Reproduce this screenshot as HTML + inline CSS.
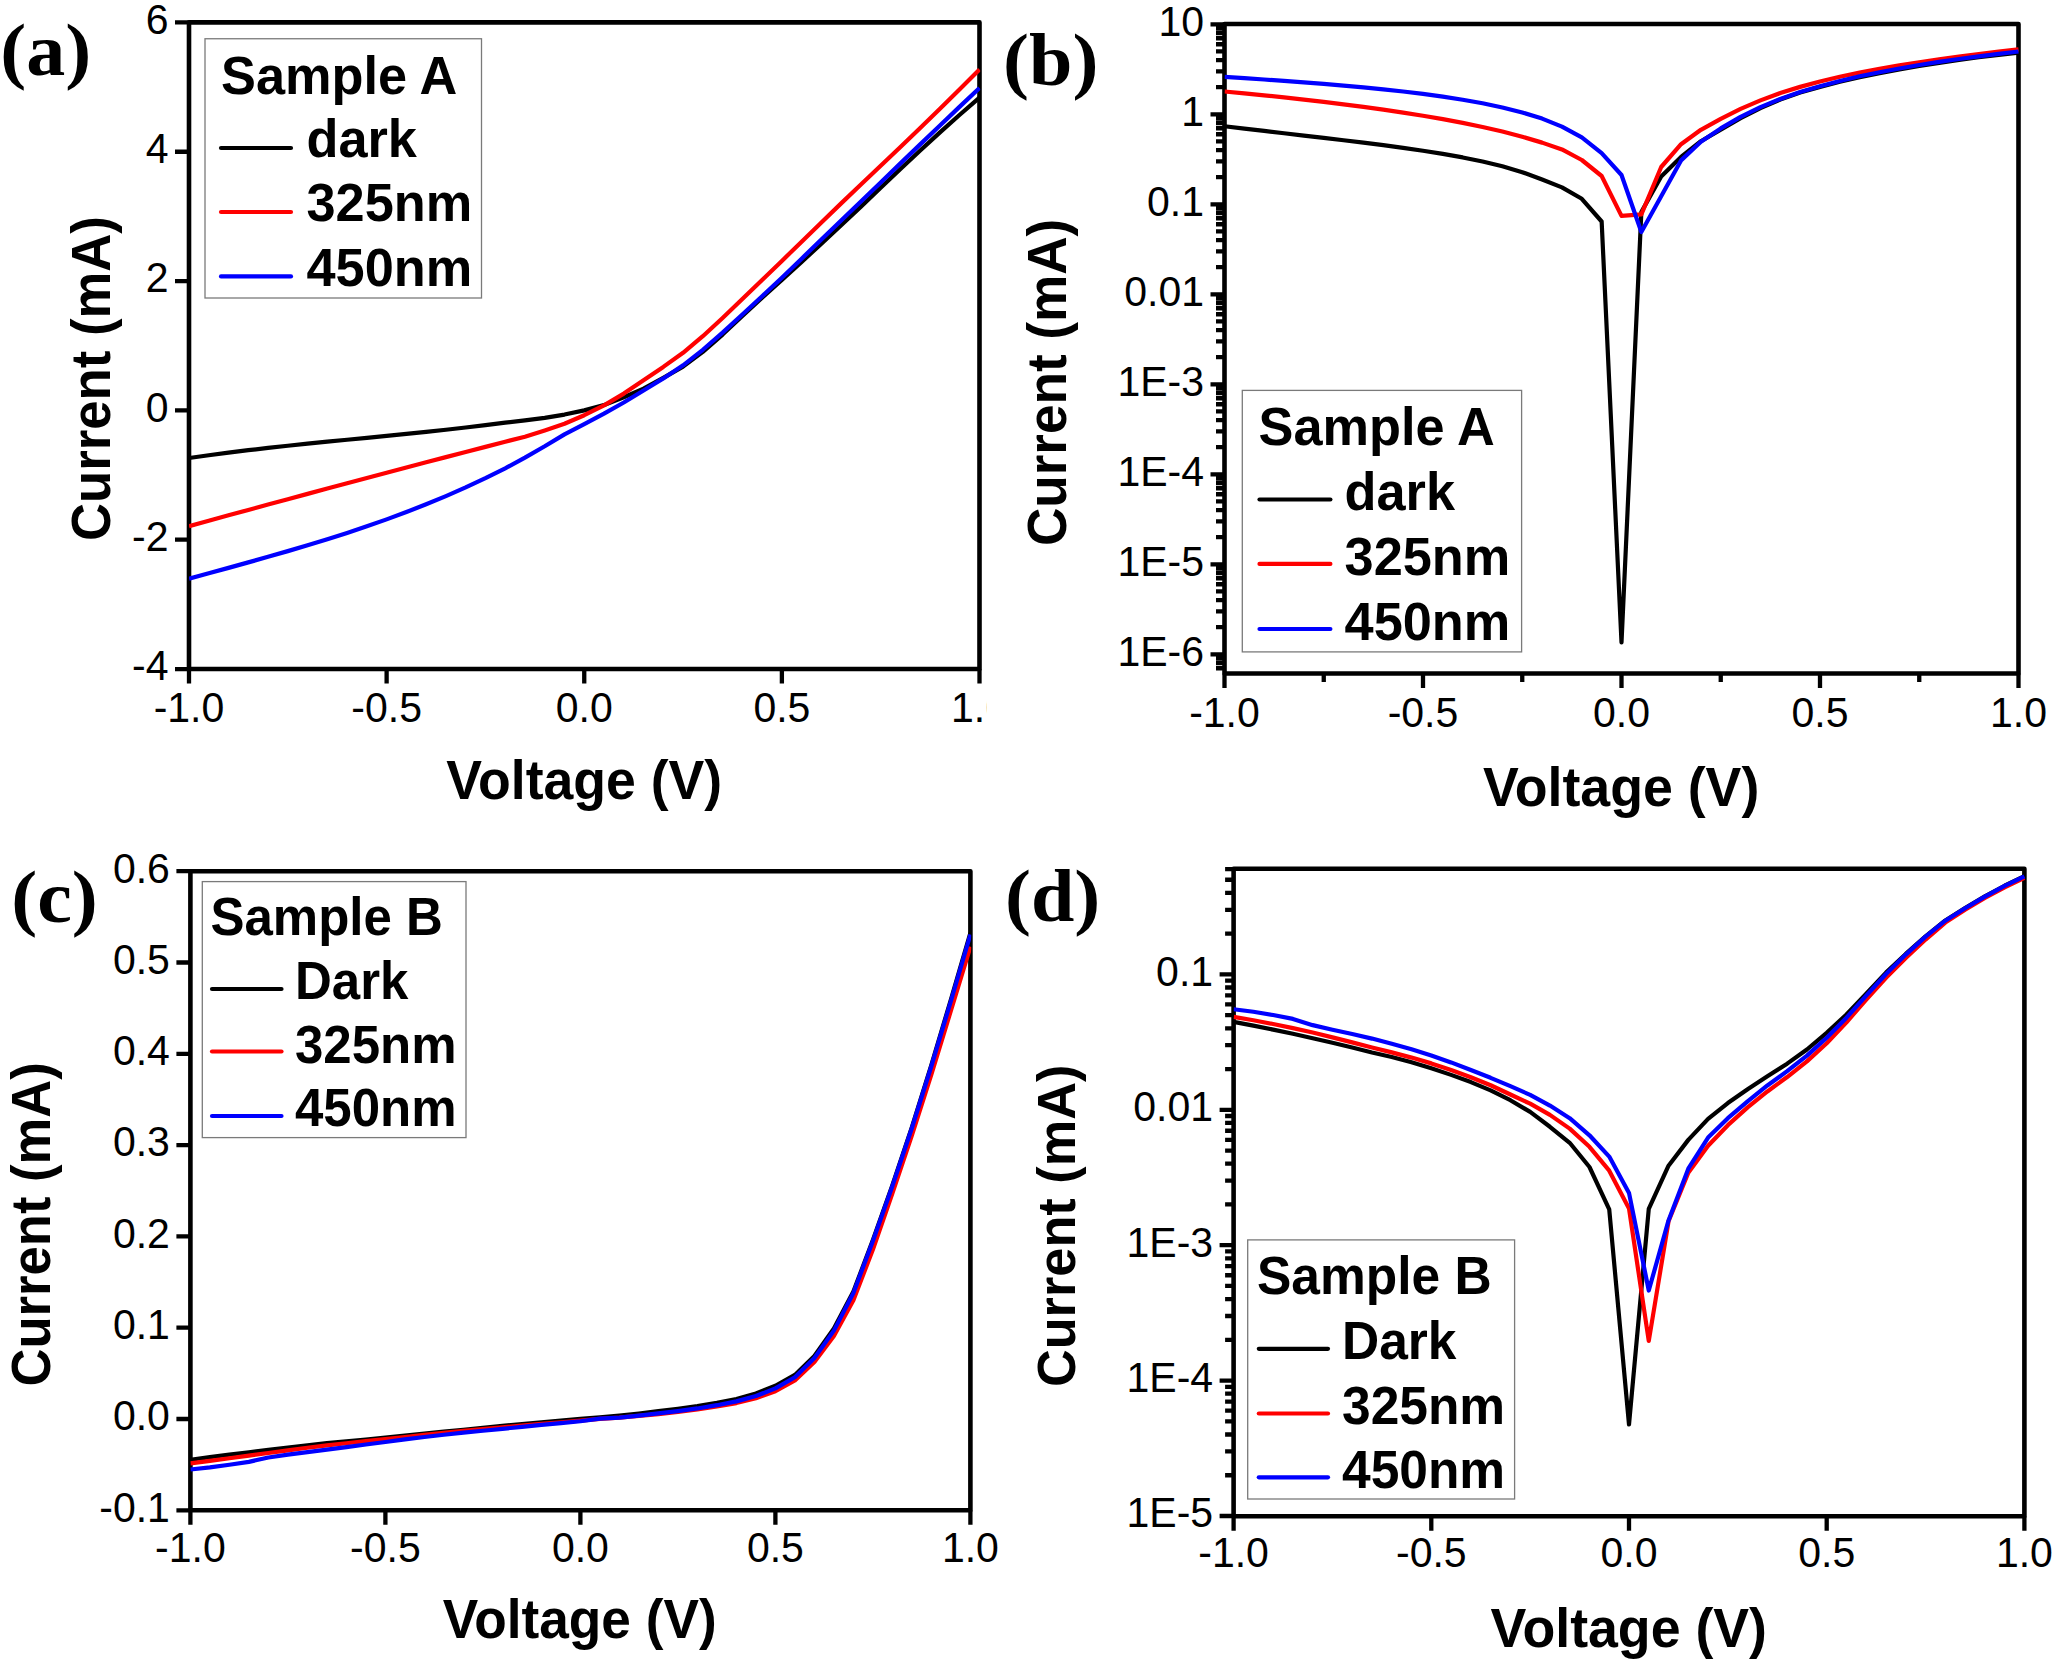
<!DOCTYPE html>
<html><head><meta charset="utf-8"><title>I-V curves</title>
<style>html,body{margin:0;padding:0;background:#fff}svg{display:block}text{font-family:"Liberation Sans", Arial, Helvetica, sans-serif;fill:#000}text.pl{font-family:"Liberation Serif", "Times New Roman", Times, serif;font-weight:bold}</style>
</head><body>
<svg xmlns="http://www.w3.org/2000/svg" width="2055" height="1661" viewBox="0 0 2055 1661">
<rect width="2055" height="1661" fill="#fff"/>
<defs><clipPath id="clipA"><rect x="-60" y="-50" width="67" height="70"/></clipPath></defs>
<rect x="189" y="22.4" width="790.5" height="646.6" fill="none" stroke="#000" stroke-width="4.6" stroke-linejoin="round"/>
<clipPath id="cpA"><rect x="189" y="22.4" width="791.3" height="646.6"/></clipPath>
<path d="M189 458.01 L208.76 455.22 L228.52 452.62 L248.29 450.19 L268.05 447.91 L287.81 445.75 L307.57 443.69 L327.34 441.69 L347.1 439.74 L366.86 437.8 L386.62 435.86 L406.39 433.88 L426.15 431.84 L445.91 429.72 L465.67 427.49 L485.44 425.12 L505.2 422.58 L524.96 420.36 L544.73 417.84 L564.49 414.56 L584.25 410.4 L604.01 405.08 L623.78 397.2 L643.54 388.71 L663.3 377.91 L683.06 366.68 L702.83 351.91 L722.59 334.57 L742.35 316.04 L762.11 297.69 L781.88 279.91 L801.64 261.89 L821.4 243.7 L841.16 225.31 L860.93 206.62 L880.69 187.81 L900.45 169.05 L920.21 150.5 L939.97 132.34 L959.74 114.74 L979.5 97.6" fill="none" stroke="#000" stroke-width="4.2" stroke-linejoin="round" clip-path="url(#cpA)"/>
<path d="M189 526.17 L208.76 520.74 L228.52 515.34 L248.29 509.95 L268.05 504.58 L287.81 499.23 L307.57 493.9 L327.34 488.58 L347.1 483.29 L366.86 478.02 L386.62 472.77 L406.39 467.54 L426.15 462.34 L445.91 457.15 L465.67 451.99 L485.44 446.85 L505.2 441.73 L524.96 436.74 L544.73 430.48 L564.49 423.74 L584.25 415.21 L604.01 405.41 L623.78 393.61 L643.54 380.31 L663.3 366.91 L683.06 352.77 L702.83 336.2 L722.59 318.03 L742.35 299.04 L762.11 279.99 L781.88 260.92 L801.64 241.67 L821.4 222.42 L841.16 203.38 L860.93 184.52 L880.69 165.73 L900.45 146.92 L920.21 127.98 L939.97 108.83 L959.74 89.36 L979.5 69.6" fill="none" stroke="#ff0000" stroke-width="4.2" stroke-linejoin="round" clip-path="url(#cpA)"/>
<path d="M189 578.77 L208.76 573.32 L228.52 567.87 L248.29 562.39 L268.05 556.82 L287.81 551.14 L307.57 545.28 L327.34 539.22 L347.1 532.91 L366.86 526.3 L386.62 519.36 L406.39 512.04 L426.15 504.3 L445.91 496.1 L465.67 487.4 L485.44 478.15 L505.2 468.31 L524.96 457.6 L544.73 446.3 L564.49 434.36 L584.25 424.08 L604.01 413.58 L623.78 402.47 L643.54 390.52 L663.3 378.41 L683.06 365.32 L702.83 349.78 L722.59 332.62 L742.35 314.53 L762.11 296.23 L781.88 277.74 L801.64 258.66 L821.4 239.5 L841.16 220.5 L860.93 201.47 L880.69 182.41 L900.45 163.37 L920.21 144.37 L939.97 125.44 L959.74 106.62 L979.5 87.9" fill="none" stroke="#0000ff" stroke-width="4.2" stroke-linejoin="round" clip-path="url(#cpA)"/>
<path d="M189 669 v14.5 M386.62 669 v14.5 M584.25 669 v14.5 M781.88 669 v14.5 M979.5 669 v14.5" stroke="#000" stroke-width="4.3" fill="none"/>
<text transform="translate(189 721.8) scale(1 1.04)" font-size="41" text-anchor="middle">-1.0</text>
<text transform="translate(386.62 721.8) scale(1 1.04)" font-size="41" text-anchor="middle">-0.5</text>
<text transform="translate(584.25 721.8) scale(1 1.04)" font-size="41" text-anchor="middle">0.0</text>
<text transform="translate(781.88 721.8) scale(1 1.04)" font-size="41" text-anchor="middle">0.5</text>
<text transform="translate(979.5 721.8) scale(1 1.04)" font-size="41" text-anchor="middle" clip-path="url(#clipA)">1.0</text>
<path d="M189 22.44 h-14 M189 151.76 h-14 M189 281.08 h-14 M189 410.4 h-14 M189 539.72 h-14 M189 669.04 h-14" stroke="#000" stroke-width="4.3" fill="none"/>
<text transform="translate(168.5 33.74) scale(1 1.04)" font-size="41" text-anchor="end">6</text>
<text transform="translate(168.5 163.06) scale(1 1.04)" font-size="41" text-anchor="end">4</text>
<text transform="translate(168.5 292.38) scale(1 1.04)" font-size="41" text-anchor="end">2</text>
<text transform="translate(168.5 421.7) scale(1 1.04)" font-size="41" text-anchor="end">0</text>
<text transform="translate(168.5 551.02) scale(1 1.04)" font-size="41" text-anchor="end">-2</text>
<text transform="translate(168.5 680.34) scale(1 1.04)" font-size="41" text-anchor="end">-4</text>
<text transform="translate(584.2 799.2) scale(1 1.04)" font-size="53.6" text-anchor="middle" font-weight="bold">Voltage (V)</text>
<text transform="translate(110 541) rotate(-90) scale(1 1.04)" font-size="52.7" font-weight="bold">Current (mA)</text>
<text transform="translate(0.3 75) scale(1.04 1)" font-size="75" class="pl">(a)</text>
<rect x="205" y="38.75" width="276.5" height="259.25" fill="#fff" stroke="#7a7a7a" stroke-width="1.3"/>
<text transform="translate(221 93.5) scale(1 1.04)" font-size="52.3" font-weight="bold">Sample A</text>
<path d="M221 148 H291" stroke="#000" stroke-width="4.2" stroke-linecap="round"/>
<text transform="translate(306.5 157) scale(1 1.04)" font-size="52.3" font-weight="bold">dark</text>
<path d="M221 212 H291" stroke="#ff0000" stroke-width="4.2" stroke-linecap="round"/>
<text transform="translate(306.5 221.3) scale(1 1.04)" font-size="52.3" font-weight="bold">325nm</text>
<path d="M221 276.4 H291" stroke="#0000ff" stroke-width="4.2" stroke-linecap="round"/>
<text transform="translate(306.5 285.8) scale(1 1.04)" font-size="52.3" font-weight="bold">450nm</text>
<rect x="1224.5" y="24" width="794" height="649.5" fill="none" stroke="#000" stroke-width="4.6" stroke-linejoin="round"/>
<clipPath id="cpB"><rect x="1224.5" y="24" width="794.8" height="649.5"/></clipPath>
<path d="M1224.5 126.26 L1244.35 128.63 L1264.2 130.96 L1284.05 133.28 L1303.9 135.58 L1323.75 137.9 L1343.6 140.25 L1363.45 142.67 L1383.3 145.19 L1403.15 147.86 L1423 150.73 L1442.85 153.89 L1462.7 157.44 L1482.55 161.51 L1502.4 166.32 L1522.25 172.16 L1542.1 179.54 L1561.95 187.4 L1581.8 198.8 L1601.65 221.5 L1621.5 642.5 L1641.35 211.9 L1661.2 176.4 L1681.05 157 L1700.9 141.2 L1720.75 129.6 L1740.6 118.22 L1760.45 108.07 L1780.3 99.53 L1800.15 92.58 L1820 86.86 L1839.85 81.8 L1859.7 77.28 L1879.55 73.19 L1899.4 69.43 L1919.25 65.98 L1939.1 62.82 L1958.95 59.92 L1978.8 57.28 L1998.65 54.89 L2018.5 52.68" fill="none" stroke="#000" stroke-width="4.2" stroke-linejoin="round" clip-path="url(#cpB)"/>
<path d="M1224.5 91.53 L1244.35 93.41 L1264.2 95.37 L1284.05 97.43 L1303.9 99.6 L1323.75 101.89 L1343.6 104.31 L1363.45 106.88 L1383.3 109.62 L1403.15 112.55 L1423 115.71 L1442.85 119.13 L1462.7 122.87 L1482.55 126.98 L1502.4 131.55 L1522.25 136.71 L1542.1 142.62 L1561.95 149.4 L1581.8 160 L1601.65 176 L1621.5 215.9 L1641.35 214.4 L1661.2 167 L1681.05 144.2 L1700.9 129.8 L1720.75 118.8 L1740.6 108.92 L1760.45 100.36 L1780.3 93.05 L1800.15 86.88 L1820 81.55 L1839.85 76.81 L1859.7 72.59 L1879.55 68.82 L1899.4 65.41 L1919.25 62.28 L1939.1 59.39 L1958.95 56.68 L1978.8 54.11 L1998.65 51.67 L2018.5 49.33" fill="none" stroke="#ff0000" stroke-width="4.2" stroke-linejoin="round" clip-path="url(#cpB)"/>
<path d="M1224.5 76.89 L1244.35 78.18 L1264.2 79.51 L1284.05 80.89 L1303.9 82.35 L1323.75 83.9 L1343.6 85.56 L1363.45 87.36 L1383.3 89.32 L1403.15 91.49 L1423 93.9 L1442.85 96.62 L1462.7 99.72 L1482.55 103.29 L1502.4 107.47 L1522.25 112.48 L1542.1 118.61 L1561.95 126.6 L1581.8 137.3 L1601.65 153.1 L1621.5 175 L1641.35 232 L1661.2 196.3 L1681.05 160.4 L1700.9 141.8 L1720.75 128.4 L1740.6 116.82 L1760.45 107.08 L1780.3 98.91 L1800.15 92.08 L1820 86.21 L1839.85 80.96 L1859.7 76.31 L1879.55 72.19 L1899.4 68.46 L1919.25 65.04 L1939.1 61.91 L1958.95 59.01 L1978.8 56.33 L1998.65 53.83 L2018.5 51.49" fill="none" stroke="#0000ff" stroke-width="4.2" stroke-linejoin="round" clip-path="url(#cpB)"/>
<path d="M1224.5 673.5 v14.5 M1423 673.5 v14.5 M1621.5 673.5 v14.5 M1820 673.5 v14.5 M2018.5 673.5 v14.5 M1323.75 673.5 v8.5 M1522.25 673.5 v8.5 M1720.75 673.5 v8.5 M1919.25 673.5 v8.5" stroke="#000" stroke-width="4.3" fill="none"/>
<text transform="translate(1224.5 726.8) scale(1 1.04)" font-size="41" text-anchor="middle">-1.0</text>
<text transform="translate(1423 726.8) scale(1 1.04)" font-size="41" text-anchor="middle">-0.5</text>
<text transform="translate(1621.5 726.8) scale(1 1.04)" font-size="41" text-anchor="middle">0.0</text>
<text transform="translate(1820 726.8) scale(1 1.04)" font-size="41" text-anchor="middle">0.5</text>
<text transform="translate(2018.5 726.8) scale(1 1.04)" font-size="41" text-anchor="middle">1.0</text>
<path d="M1224.5 24.3 h-14 M1224.5 114.3 h-14 M1224.5 204.3 h-14 M1224.5 294.3 h-14 M1224.5 384.3 h-14 M1224.5 474.3 h-14 M1224.5 564.3 h-14 M1224.5 654.3 h-14 M1224.5 668.24 h-8.5 M1224.5 663.02 h-8.5 M1224.5 658.42 h-8.5 M1224.5 627.21 h-8.5 M1224.5 611.36 h-8.5 M1224.5 600.11 h-8.5 M1224.5 591.39 h-8.5 M1224.5 584.27 h-8.5 M1224.5 578.24 h-8.5 M1224.5 573.02 h-8.5 M1224.5 568.42 h-8.5 M1224.5 537.21 h-8.5 M1224.5 521.36 h-8.5 M1224.5 510.11 h-8.5 M1224.5 501.39 h-8.5 M1224.5 494.27 h-8.5 M1224.5 488.24 h-8.5 M1224.5 483.02 h-8.5 M1224.5 478.42 h-8.5 M1224.5 447.21 h-8.5 M1224.5 431.36 h-8.5 M1224.5 420.11 h-8.5 M1224.5 411.39 h-8.5 M1224.5 404.27 h-8.5 M1224.5 398.24 h-8.5 M1224.5 393.02 h-8.5 M1224.5 388.42 h-8.5 M1224.5 357.21 h-8.5 M1224.5 341.36 h-8.5 M1224.5 330.11 h-8.5 M1224.5 321.39 h-8.5 M1224.5 314.27 h-8.5 M1224.5 308.24 h-8.5 M1224.5 303.02 h-8.5 M1224.5 298.42 h-8.5 M1224.5 267.21 h-8.5 M1224.5 251.36 h-8.5 M1224.5 240.11 h-8.5 M1224.5 231.39 h-8.5 M1224.5 224.27 h-8.5 M1224.5 218.24 h-8.5 M1224.5 213.02 h-8.5 M1224.5 208.42 h-8.5 M1224.5 177.21 h-8.5 M1224.5 161.36 h-8.5 M1224.5 150.11 h-8.5 M1224.5 141.39 h-8.5 M1224.5 134.27 h-8.5 M1224.5 128.24 h-8.5 M1224.5 123.02 h-8.5 M1224.5 118.42 h-8.5 M1224.5 87.21 h-8.5 M1224.5 71.36 h-8.5 M1224.5 60.11 h-8.5 M1224.5 51.39 h-8.5 M1224.5 44.27 h-8.5 M1224.5 38.24 h-8.5 M1224.5 33.02 h-8.5 M1224.5 28.42 h-8.5" stroke="#000" stroke-width="4.3" fill="none"/>
<text transform="translate(1204 35.6) scale(1 1.04)" font-size="41" text-anchor="end">10</text>
<text transform="translate(1204 125.6) scale(1 1.04)" font-size="41" text-anchor="end">1</text>
<text transform="translate(1204 215.6) scale(1 1.04)" font-size="41" text-anchor="end">0.1</text>
<text transform="translate(1204 305.6) scale(1 1.04)" font-size="41" text-anchor="end">0.01</text>
<text transform="translate(1204 395.6) scale(1 1.04)" font-size="41" text-anchor="end">1E-3</text>
<text transform="translate(1204 485.6) scale(1 1.04)" font-size="41" text-anchor="end">1E-4</text>
<text transform="translate(1204 575.6) scale(1 1.04)" font-size="41" text-anchor="end">1E-5</text>
<text transform="translate(1204 665.6) scale(1 1.04)" font-size="41" text-anchor="end">1E-6</text>
<text transform="translate(1621.1 805.6) scale(1 1.04)" font-size="53.7" text-anchor="middle" font-weight="bold">Voltage (V)</text>
<text transform="translate(1065.6 546.1) rotate(-90) scale(1 1.04)" font-size="53.1" font-weight="bold">Current (mA)</text>
<text transform="translate(1003.1 85.3) scale(1.04 1)" font-size="75" class="pl">(b)</text>
<rect x="1242.3" y="390.4" width="279.3" height="261.5" fill="#fff" stroke="#7a7a7a" stroke-width="1.3"/>
<text transform="translate(1258.5 445.2) scale(1 1.04)" font-size="52.3" font-weight="bold">Sample A</text>
<path d="M1259.5 499.5 H1330.4" stroke="#000" stroke-width="4.2" stroke-linecap="round"/>
<text transform="translate(1344.6 509.6) scale(1 1.04)" font-size="52.3" font-weight="bold">dark</text>
<path d="M1259.5 563.9 H1330.4" stroke="#ff0000" stroke-width="4.2" stroke-linecap="round"/>
<text transform="translate(1344.6 574.5) scale(1 1.04)" font-size="52.3" font-weight="bold">325nm</text>
<path d="M1259.5 629 H1330.4" stroke="#0000ff" stroke-width="4.2" stroke-linecap="round"/>
<text transform="translate(1344.6 639.6) scale(1 1.04)" font-size="52.3" font-weight="bold">450nm</text>
<rect x="190.4" y="871.2" width="780" height="639.1" fill="none" stroke="#000" stroke-width="4.6" stroke-linejoin="round"/>
<clipPath id="cpC"><rect x="190.4" y="871.2" width="780.8" height="639.1"/></clipPath>
<path d="M190.4 1459.74 L209.9 1457.2 L229.4 1454.69 L248.9 1452.24 L268.4 1449.86 L287.9 1447.56 L307.4 1445.33 L326.9 1443.18 L346.4 1441.43 L365.9 1439.51 L385.4 1437.49 L404.9 1435.53 L424.4 1433.63 L443.9 1431.71 L463.4 1429.75 L482.9 1427.81 L502.4 1425.84 L521.9 1424.21 L541.4 1422.45 L560.9 1420.68 L580.4 1418.96 L599.9 1417.31 L619.4 1415.47 L638.9 1413.53 L658.4 1411.17 L677.9 1408.76 L697.4 1406.03 L716.9 1402.83 L736.4 1398.99 L755.9 1393.54 L775.4 1385.74 L794.9 1374.93 L814.4 1356.07 L833.9 1328.54 L853.4 1291.47 L872.9 1240.09 L892.4 1185.18 L911.9 1127.06 L931.4 1064.8 L950.9 999.58 L970.4 932.85" fill="none" stroke="#000" stroke-width="4.2" stroke-linejoin="round" clip-path="url(#cpC)"/>
<path d="M190.4 1463.36 L209.9 1460.83 L229.4 1458.24 L248.9 1455.63 L268.4 1452.96 L287.9 1450.3 L307.4 1447.74 L326.9 1445.38 L346.4 1443.23 L365.9 1441.18 L385.4 1439.1 L404.9 1436.99 L424.4 1434.89 L443.9 1432.86 L463.4 1430.85 L482.9 1429.13 L502.4 1427.37 L521.9 1425.63 L541.4 1423.87 L560.9 1422.24 L580.4 1420.71 L599.9 1418.82 L619.4 1417.63 L638.9 1415.87 L658.4 1414.05 L677.9 1411.97 L697.4 1409.49 L716.9 1406.53 L736.4 1403.06 L755.9 1398.19 L775.4 1391.15 L794.9 1380.36 L814.4 1361.94 L833.9 1336.03 L853.4 1300.24 L872.9 1249.49 L892.4 1193.33 L911.9 1135.38 L931.4 1074.26 L950.9 1010.7 L970.4 946.7" fill="none" stroke="#ff0000" stroke-width="4.2" stroke-linejoin="round" clip-path="url(#cpC)"/>
<path d="M190.4 1469.49 L209.9 1467.4 L229.4 1464.74 L248.9 1461.83 L268.4 1457.53 L287.9 1454.62 L307.4 1452.15 L326.9 1449.65 L346.4 1447.07 L365.9 1444.53 L385.4 1442.02 L404.9 1439.44 L424.4 1436.96 L443.9 1434.73 L463.4 1432.64 L482.9 1430.77 L502.4 1428.81 L521.9 1426.91 L541.4 1424.92 L560.9 1423.12 L580.4 1421.22 L599.9 1418.58 L619.4 1417.61 L638.9 1415.65 L658.4 1413.31 L677.9 1411.08 L697.4 1408.45 L716.9 1405.19 L736.4 1401.38 L755.9 1396.05 L775.4 1388.4 L794.9 1377.2 L814.4 1358 L833.9 1330.6 L853.4 1293 L872.9 1241 L892.4 1186 L911.9 1128 L931.4 1066 L950.9 1001 L970.4 934.5" fill="none" stroke="#0000ff" stroke-width="4.2" stroke-linejoin="round" clip-path="url(#cpC)"/>
<path d="M190.4 1510.3 v14.5 M385.4 1510.3 v14.5 M580.4 1510.3 v14.5 M775.4 1510.3 v14.5 M970.4 1510.3 v14.5" stroke="#000" stroke-width="4.3" fill="none"/>
<text transform="translate(190.4 1561.5) scale(1 1.04)" font-size="41" text-anchor="middle">-1.0</text>
<text transform="translate(385.4 1561.5) scale(1 1.04)" font-size="41" text-anchor="middle">-0.5</text>
<text transform="translate(580.4 1561.5) scale(1 1.04)" font-size="41" text-anchor="middle">0.0</text>
<text transform="translate(775.4 1561.5) scale(1 1.04)" font-size="41" text-anchor="middle">0.5</text>
<text transform="translate(970.4 1561.5) scale(1 1.04)" font-size="41" text-anchor="middle">1.0</text>
<path d="M190.4 871.2 h-14 M190.4 962.5 h-14 M190.4 1053.8 h-14 M190.4 1145.1 h-14 M190.4 1236.4 h-14 M190.4 1327.7 h-14 M190.4 1419 h-14 M190.4 1510.3 h-14" stroke="#000" stroke-width="4.3" fill="none"/>
<text transform="translate(169.9 882.5) scale(1 1.04)" font-size="41" text-anchor="end">0.6</text>
<text transform="translate(169.9 973.8) scale(1 1.04)" font-size="41" text-anchor="end">0.5</text>
<text transform="translate(169.9 1065.1) scale(1 1.04)" font-size="41" text-anchor="end">0.4</text>
<text transform="translate(169.9 1156.4) scale(1 1.04)" font-size="41" text-anchor="end">0.3</text>
<text transform="translate(169.9 1247.7) scale(1 1.04)" font-size="41" text-anchor="end">0.2</text>
<text transform="translate(169.9 1339) scale(1 1.04)" font-size="41" text-anchor="end">0.1</text>
<text transform="translate(169.9 1430.3) scale(1 1.04)" font-size="41" text-anchor="end">0.0</text>
<text transform="translate(169.9 1521.6) scale(1 1.04)" font-size="41" text-anchor="end">-0.1</text>
<text transform="translate(579.7 1638.3) scale(1 1.04)" font-size="53.2" text-anchor="middle" font-weight="bold">Voltage (V)</text>
<text transform="translate(49.6 1386.5) rotate(-90) scale(1 1.04)" font-size="52.6" font-weight="bold">Current (mA)</text>
<text transform="translate(11.2 922.4) scale(1.04 1)" font-size="75" class="pl">(c)</text>
<rect x="202.3" y="881.6" width="263.7" height="256" fill="#fff" stroke="#7a7a7a" stroke-width="1.3"/>
<text transform="translate(210.5 935) scale(1 1.04)" font-size="51" font-weight="bold">Sample B</text>
<path d="M212 989 H281.5" stroke="#000" stroke-width="4.2" stroke-linecap="round"/>
<text transform="translate(295 998.5) scale(1 1.04)" font-size="51" font-weight="bold">Dark</text>
<path d="M212 1051.5 H281.5" stroke="#ff0000" stroke-width="4.2" stroke-linecap="round"/>
<text transform="translate(295 1062.5) scale(1 1.04)" font-size="51" font-weight="bold">325nm</text>
<path d="M212 1116 H281.5" stroke="#0000ff" stroke-width="4.2" stroke-linecap="round"/>
<text transform="translate(295 1126) scale(1 1.04)" font-size="51" font-weight="bold">450nm</text>
<rect x="1233.6" y="868.7" width="790.8" height="647.6" fill="none" stroke="#000" stroke-width="4.6" stroke-linejoin="round"/>
<clipPath id="cpD"><rect x="1233.6" y="868.7" width="791.6" height="647.6"/></clipPath>
<path d="M1233.6 1021.86 L1253.37 1025.64 L1273.14 1029.63 L1292.91 1033.81 L1312.68 1038.18 L1332.45 1042.74 L1352.22 1047.51 L1371.99 1052.53 L1391.76 1056.95 L1411.53 1062.21 L1431.3 1068.31 L1451.07 1074.88 L1470.84 1082.07 L1490.61 1090.36 L1510.38 1100.21 L1530.15 1111.92 L1549.92 1126.78 L1569.69 1142.77 L1589.46 1167 L1609.23 1209.4 L1629 1424.5 L1648.77 1208.9 L1668.54 1165.7 L1688.31 1139.9 L1708.08 1118.83 L1727.85 1103.06 L1747.62 1089.16 L1767.39 1076.2 L1787.16 1063.66 L1806.93 1049.5 L1826.7 1032.84 L1846.47 1014.56 L1866.24 993.79 L1886.01 972.64 L1905.78 953.9 L1925.55 936.37 L1945.32 920.5 L1965.09 908.02 L1984.86 896.39 L2004.63 885.73 L2024.4 876.2" fill="none" stroke="#000" stroke-width="4.2" stroke-linejoin="round" clip-path="url(#cpD)"/>
<path d="M1233.6 1016.85 L1253.37 1020.3 L1273.14 1024.05 L1292.91 1028.11 L1312.68 1032.55 L1332.45 1037.35 L1352.22 1042.36 L1371.99 1047.41 L1391.76 1052.4 L1411.53 1057.6 L1431.3 1063.39 L1451.07 1069.93 L1470.84 1077.21 L1490.61 1085.26 L1510.38 1094.48 L1530.15 1103.7 L1549.92 1114.88 L1569.69 1128.64 L1589.46 1146.8 L1609.23 1170.7 L1629 1208.4 L1648.77 1341 L1668.54 1221.3 L1688.31 1172.7 L1708.08 1145.81 L1727.85 1125.18 L1747.62 1107.4 L1767.39 1091.48 L1787.16 1077.03 L1806.93 1061.35 L1826.7 1043.26 L1846.47 1022.3 L1866.24 999.54 L1886.01 977.72 L1905.78 958.09 L1925.55 939.54 L1945.32 922.59 L1965.09 909.72 L1984.86 897.99 L2004.63 887.32 L2024.4 877.9" fill="none" stroke="#ff0000" stroke-width="4.2" stroke-linejoin="round" clip-path="url(#cpD)"/>
<path d="M1233.6 1009.23 L1253.37 1011.72 L1273.14 1015.04 L1292.91 1018.91 L1312.68 1025.13 L1332.45 1029.75 L1352.22 1033.97 L1371.99 1038.59 L1391.76 1043.75 L1411.53 1049.32 L1431.3 1055.41 L1451.07 1062.41 L1470.84 1070 L1490.61 1077.81 L1510.38 1086.17 L1530.15 1094.88 L1549.92 1105.6 L1569.69 1118.21 L1589.46 1135.3 L1609.23 1156.6 L1629 1192.9 L1648.77 1290.5 L1668.54 1220.4 L1688.31 1168.7 L1708.08 1137.6 L1727.85 1118.16 L1747.62 1101.3 L1767.39 1085.47 L1787.16 1071.15 L1806.93 1055.6 L1826.7 1037.73 L1846.47 1017.68 L1866.24 995.61 L1886.01 973.99 L1905.78 954.61 L1925.55 936.67 L1945.32 920.71 L1965.09 908.21 L1984.86 896.59 L2004.63 885.93 L2024.4 876.4" fill="none" stroke="#0000ff" stroke-width="4.2" stroke-linejoin="round" clip-path="url(#cpD)"/>
<path d="M1233.6 1516.3 v14.5 M1431.3 1516.3 v14.5 M1629 1516.3 v14.5 M1826.7 1516.3 v14.5 M2024.4 1516.3 v14.5" stroke="#000" stroke-width="4.3" fill="none"/>
<text transform="translate(1233.6 1567.1) scale(1 1.04)" font-size="41" text-anchor="middle">-1.0</text>
<text transform="translate(1431.3 1567.1) scale(1 1.04)" font-size="41" text-anchor="middle">-0.5</text>
<text transform="translate(1629 1567.1) scale(1 1.04)" font-size="41" text-anchor="middle">0.0</text>
<text transform="translate(1826.7 1567.1) scale(1 1.04)" font-size="41" text-anchor="middle">0.5</text>
<text transform="translate(2024.4 1567.1) scale(1 1.04)" font-size="41" text-anchor="middle">1.0</text>
<path d="M1233.6 974.4 h-14 M1233.6 1109.8 h-14 M1233.6 1245.2 h-14 M1233.6 1380.6 h-14 M1233.6 1516 h-14 M1233.6 1475.24 h-8.5 M1233.6 1451.4 h-8.5 M1233.6 1434.48 h-8.5 M1233.6 1421.36 h-8.5 M1233.6 1410.64 h-8.5 M1233.6 1401.57 h-8.5 M1233.6 1393.72 h-8.5 M1233.6 1386.8 h-8.5 M1233.6 1339.84 h-8.5 M1233.6 1316 h-8.5 M1233.6 1299.08 h-8.5 M1233.6 1285.96 h-8.5 M1233.6 1275.24 h-8.5 M1233.6 1266.17 h-8.5 M1233.6 1258.32 h-8.5 M1233.6 1251.4 h-8.5 M1233.6 1204.44 h-8.5 M1233.6 1180.6 h-8.5 M1233.6 1163.68 h-8.5 M1233.6 1150.56 h-8.5 M1233.6 1139.84 h-8.5 M1233.6 1130.77 h-8.5 M1233.6 1122.92 h-8.5 M1233.6 1116 h-8.5 M1233.6 1069.04 h-8.5 M1233.6 1045.2 h-8.5 M1233.6 1028.28 h-8.5 M1233.6 1015.16 h-8.5 M1233.6 1004.44 h-8.5 M1233.6 995.37 h-8.5 M1233.6 987.52 h-8.5 M1233.6 980.6 h-8.5 M1233.6 933.64 h-8.5 M1233.6 909.8 h-8.5 M1233.6 892.88 h-8.5 M1233.6 879.76 h-8.5 M1233.6 869.04 h-8.5" stroke="#000" stroke-width="4.3" fill="none"/>
<text transform="translate(1213.1 985.7) scale(1 1.04)" font-size="41" text-anchor="end">0.1</text>
<text transform="translate(1213.1 1121.1) scale(1 1.04)" font-size="41" text-anchor="end">0.01</text>
<text transform="translate(1213.1 1256.5) scale(1 1.04)" font-size="41" text-anchor="end">1E-3</text>
<text transform="translate(1213.1 1391.9) scale(1 1.04)" font-size="41" text-anchor="end">1E-4</text>
<text transform="translate(1213.1 1527.3) scale(1 1.04)" font-size="41" text-anchor="end">1E-5</text>
<text transform="translate(1628.8 1646.6) scale(1 1.04)" font-size="53.7" text-anchor="middle" font-weight="bold">Voltage (V)</text>
<text transform="translate(1074.8 1387.1) rotate(-90) scale(1 1.04)" font-size="52.3" font-weight="bold">Current (mA)</text>
<text transform="translate(1005 921.4) scale(1.04 1)" font-size="75" class="pl">(d)</text>
<rect x="1247.7" y="1239.9" width="266.9" height="259.1" fill="#fff" stroke="#7a7a7a" stroke-width="1.3"/>
<text transform="translate(1257 1294.2) scale(1 1.04)" font-size="51.5" font-weight="bold">Sample B</text>
<path d="M1258.8 1348.8 H1328" stroke="#000" stroke-width="4.2" stroke-linecap="round"/>
<text transform="translate(1342 1359.2) scale(1 1.04)" font-size="51.5" font-weight="bold">Dark</text>
<path d="M1258.8 1413.5 H1328" stroke="#ff0000" stroke-width="4.2" stroke-linecap="round"/>
<text transform="translate(1342 1424.3) scale(1 1.04)" font-size="51.5" font-weight="bold">325nm</text>
<path d="M1258.8 1477.3 H1328" stroke="#0000ff" stroke-width="4.2" stroke-linecap="round"/>
<text transform="translate(1342 1488.3) scale(1 1.04)" font-size="51.5" font-weight="bold">450nm</text>
</svg></body></html>
